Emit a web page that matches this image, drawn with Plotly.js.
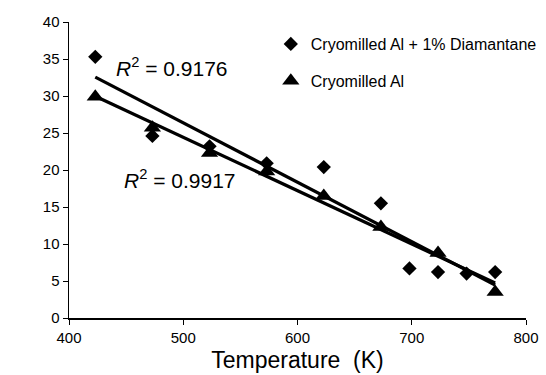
<!DOCTYPE html>
<html>
<head>
<meta charset="utf-8">
<script src="https://cdn.plot.ly/plotly-3.0.1.min.js"></script>
<style>html,body{margin:0;padding:0;background:#fff;}#chart{width:546px;height:375px;}</style>
</head>
<body>
<div id="chart"></div>
<script>
// Data
const diamTemp = [423, 473, 523, 573, 623, 673, 698, 723, 748, 773];
const diamN    = [35.3, 24.6, 23.2, 20.9, 20.4, 15.5, 6.7, 6.2, 6.0, 6.2];
const alTemp   = [423, 473, 523, 573, 623, 673, 723, 773];
const alN      = [29.9, 25.7, 22.3, 19.8, 16.5, 12.3, 8.8, 3.5];
const seriesNames = ["Cryomilled Al + 1% Diamantane", "Cryomilled Al"];
const r2Labels = ["0.9176", "0.9917"];
const xTicks = [400, 500, 600, 700, 800];
const yTicks = [0, 5, 10, 15, 20, 25, 30, 35, 40];

// Linear least-squares trendline computed from the data
function linFit(xs, ys) {
  const n = xs.length;
  const mx = xs.reduce((a, b) => a + b, 0) / n;
  const my = ys.reduce((a, b) => a + b, 0) / n;
  let sxy = 0, sxx = 0;
  for (let i = 0; i < n; i++) { sxy += (xs[i] - mx) * (ys[i] - my); sxx += (xs[i] - mx) ** 2; }
  const b = sxy / sxx, a = my - b * mx;
  const x0 = Math.min(...xs), x1 = Math.max(...xs);
  return { x: [x0, x1], y: [a + b * x0, a + b * x1] };
}
const fitD = linFit(diamTemp, diamN);
const fitA = linFit(alTemp, alN);

const font = "Liberation Sans, Arial, sans-serif";
const traces = [
  { x: fitD.x, y: fitD.y, mode: "lines", line: { color: "#000", width: 3.2 }, showlegend: false, hoverinfo: "skip" },
  { x: fitA.x, y: fitA.y, mode: "lines", line: { color: "#000", width: 3.2 }, showlegend: false, hoverinfo: "skip" },
  { x: diamTemp, y: diamN, mode: "markers", name: seriesNames[0], legendgroup: "a",
    marker: { symbol: "diamond", size: 11, color: "#000" } },
  { x: alTemp, y: alN, mode: "markers", name: seriesNames[1], legendgroup: "b",
    marker: { symbol: "triangle-up", size: 15, color: "#000" } }
];

const layout = {
  width: 546, height: 375,
  margin: { l: 69, r: 20, t: 22, b: 57, pad: 0, autoexpand: false },
  paper_bgcolor: "#fff", plot_bgcolor: "#fff",
  font: { family: font, color: "#000", size: 15 },
  showlegend: true,
  legend: { xref: "container", yref: "container", x: 0.496, y: 0.928, xanchor: "left", yanchor: "top",
            bgcolor: "rgba(0,0,0,0)",
            font: { family: font, size: 16, color: "#000" }, tracegroupgap: 13, itemwidth: 30 },
  xaxis: {
    range: [400, 800], tickvals: xTicks, ticktext: xTicks.map(String),
    showline: true, linecolor: "#000", linewidth: 1.5, showgrid: false, zeroline: false,
    ticks: "outside", ticklen: 5, tickcolor: "#000", tickwidth: 1,
    tickfont: { family: font, size: 15, color: "#000" },
    title: { text: "Temperature\u00a0\u00a0(K)", font: { family: font, size: 23, color: "#000" }, standoff: 7 }
  },
  yaxis: {
    range: [0, 40], tickvals: yTicks, ticktext: yTicks.map(String),
    showline: true, linecolor: "#000", linewidth: 1.5, showgrid: false, zeroline: false,
    ticks: "outside", ticklen: 5, tickcolor: "#000", tickwidth: 1,
    tickfont: { family: font, size: 15, color: "#000" },
    title: { text: "<i>n</i>", font: { family: font, size: 22, color: "#000" }, standoff: 12 }
  },
  annotations: [
    { x: 490, y: 33.9, xref: "x", yref: "y", showarrow: false,
      text: "<i>R</i><sup>2</sup> = " + r2Labels[0], font: { family: font, size: 21, color: "#000" } },
    { x: 497, y: 18.8, xref: "x", yref: "y", showarrow: false,
      text: "<i>R</i><sup>2</sup> = " + r2Labels[1], font: { family: font, size: 21, color: "#000" } }
  ]
};

Plotly.newPlot("chart", traces, layout, { staticPlot: true, displayModeBar: false });
</script>
</body>
</html>
